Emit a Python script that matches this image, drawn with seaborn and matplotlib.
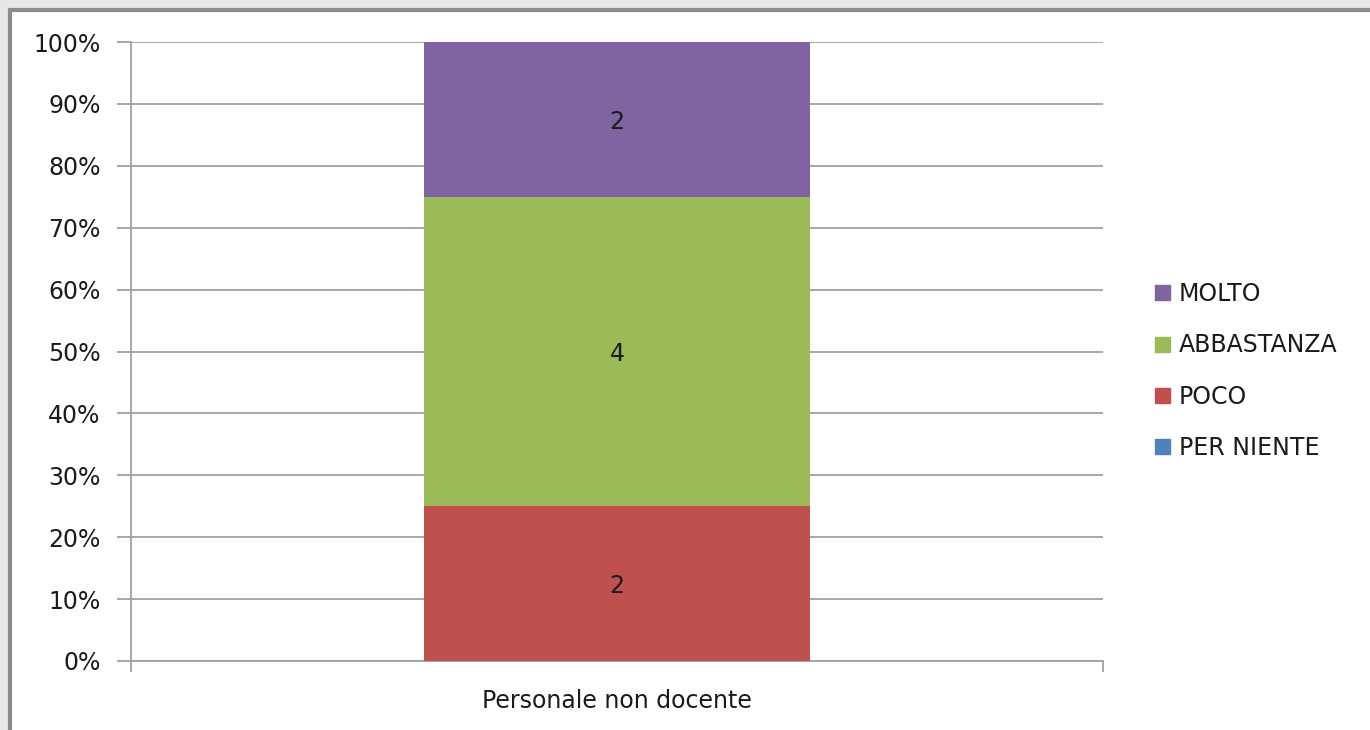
import matplotlib
matplotlib.use("Agg")
import matplotlib.pyplot as plt
import matplotlib.patches as mpatches
import seaborn as sns
import pandas as pd
import numpy as np

categories = ["Personale non docente"]
series = ["PER NIENTE", "POCO", "ABBASTANZA", "MOLTO"]
counts = [0, 2, 4, 2]
colors = ["#4F81BD", "#C0504D", "#9BBB59", "#8064A2"]

sns.set_theme(style="white")
plt.rcParams['font.family'] = ['DejaVu Sans']

FS = 17

fig = plt.figure(figsize=(13.7, 7.3), dpi=100)
fig.patch.set_facecolor("#e6e6e6")
# white chart area with gray frame
frame = mpatches.Rectangle((10/1370, -0.01), 1.02, (730-10)/730 + 0.01,
                           transform=fig.transFigure, facecolor="white",
                           edgecolor="#8c8c8c", linewidth=3, zorder=-10)
fig.patches.append(frame)

ax = fig.add_axes([131/1370, 69/730, 972/1370, 619/730])
ax.set_facecolor("none")
ax.set_zorder(1)

total = sum(counts)
pct = [c / total * 100 for c in counts]
cum = np.cumsum(pct)

# draw from top stack down so lower series overlay
for i in reversed(range(len(series))):
    if counts[i] == 0:
        continue
    df = pd.DataFrame({"cat": categories, "val": [cum[i]]})
    sns.barplot(data=df, x="cat", y="val", color=colors[i], width=0.398,
                saturation=1, ax=ax, zorder=3, linewidth=0, edgecolor="none")

# labels
for i in range(len(series)):
    if counts[i] == 0:
        continue
    base = cum[i] - pct[i]
    ax.text(0, base + pct[i] / 2, str(counts[i]), ha="center", va="center_baseline",
            fontsize=FS, color="#1a1a1a", zorder=5)

ax.set_xlim(-0.5, 0.5)
ax.set_ylim(0, 100)
ax.set_yticks(np.arange(0, 101, 10))
ax.set_yticklabels([f"{v}%" for v in range(0, 101, 10)], fontsize=FS, color="#1a1a1a")
ax.yaxis.grid(True, color="#a0a0a0", linewidth=1.3, zorder=0)
ax.set_axisbelow(True)
ax.set_xlabel("")
ax.set_ylabel("")
ax.set_xticks([0])
ax.set_xticklabels(categories, fontsize=FS, color="#1a1a1a")
ax.set_xticks([-0.5, 0.5], minor=True)
ax.tick_params(axis="x", which="major", length=0, pad=20)
ax.tick_params(axis="x", which="minor", length=8, width=1.3, color="#a0a0a0", direction="out", bottom=True)
ax.tick_params(axis="y", length=10, width=1.3, color="#a0a0a0", direction="out", left=True, pad=12)
for s in ["top", "right"]:
    ax.spines[s].set_visible(False)
for s in ["left", "bottom"]:
    ax.spines[s].set_color("#a0a0a0")
    ax.spines[s].set_linewidth(1.3)

handles = [mpatches.Patch(color=colors[i], label=series[i]) for i in reversed(range(len(series)))]
leg = fig.legend(handles=handles, loc="center left", bbox_to_anchor=(1146/1370, (730 - 371)/730),
                 frameon=False, fontsize=FS, handlelength=0.6, handleheight=0.6,
                 handletextpad=0.4, labelspacing=1.15, borderaxespad=0)
for t in leg.get_texts():
    t.set_color("#1a1a1a")

fig.savefig("out.png", dpi=100, facecolor=fig.get_facecolor())
